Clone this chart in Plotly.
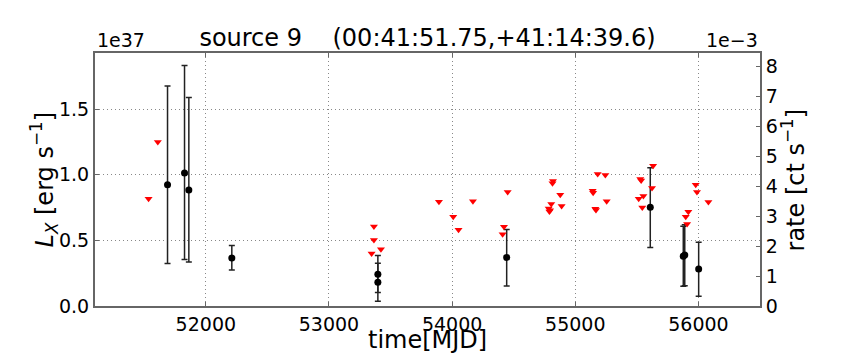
import plotly.graph_objects as go

# detections: time [MJD], L_X [1e37 erg/s], error bars
det_mjd = [51689, 51827, 51862, 52211, 53397, 53397, 54443, 55609, 55877, 55889, 56002]
det_lx = [0.924, 1.013, 0.883, 0.366, 0.242, 0.181, 0.370, 0.753, 0.379, 0.389, 0.282]
det_hi = [0.751, 0.819, 0.705, 0.095, 0.143, 0.145, 0.213, 0.300, 0.229, 0.229, 0.204]
det_lo = [0.600, 0.659, 0.547, 0.091, 0.140, 0.145, 0.217, 0.307, 0.229, 0.234, 0.208]

# upper limits: time [MJD], L_X [1e37 erg/s]
ul_mjd = [51535, 51610, 53346, 53365, 53365, 53422, 53893, 54009, 54052, 54169,
          54410, 54421, 54451, 54784, 54790, 54795, 54805, 54815, 54819, 54878,
          54889, 55141, 55145, 55163, 55168, 55182, 55244, 55255, 55515, 55528,
          55535, 55544, 55553, 55623, 55632, 55897, 55908, 55918, 55978, 55988,
          56081]
ul_lx = [0.817, 1.250, 0.400, 0.606, 0.502, 0.433, 0.794, 0.679, 0.580, 0.797,
         0.547, 0.603, 0.868, 0.743, 0.720, 0.730, 0.776, 0.935, 0.952, 0.847,
         0.761, 0.878, 0.863, 0.740, 0.731, 1.005, 0.998, 0.797, 0.817, 0.967,
         0.955, 0.751, 0.837, 0.898, 1.069, 0.680, 0.624, 0.718, 0.924, 0.868,
         0.792]

x_ticks = [52000, 53000, 54000, 55000, 56000]
lx_ticks = [0.0, 0.5, 1.0, 1.5]
rate_ticks = [0, 1, 2, 3, 4, 5, 6, 7, 8]

RATE_PER_LX = 4.387  # 1e-3 ct/s per 1e37 erg/s
LX_MAX = 1.927
FONT = "DejaVu Sans"

fig = go.Figure()

fig.add_trace(go.Scatter(
    x=ul_mjd, y=[v * RATE_PER_LX for v in ul_lx], yaxis="y2",
    mode="markers",
    marker=dict(symbol="triangle-down", size=7, color="red", line=dict(width=0)),
    showlegend=False))

fig.add_trace(go.Scatter(
    x=det_mjd, y=det_lx, mode="markers",
    marker=dict(symbol="circle", size=7, color="black"),
    error_y=dict(type="data", array=det_hi, arrayminus=det_lo,
                 color="#222222", thickness=1.5, width=3),
    showlegend=False))

axis_line = dict(showline=True, linecolor="#666666", linewidth=2,
                 ticks="inside", ticklen=4, tickcolor="#666666",
                 tickfont=dict(family=FONT, size=19, color="black"),
                 zeroline=False, automargin=False)
grid = dict(showgrid=True, gridcolor="#888888", griddash="1px,3px", gridwidth=1)

# page body has an 8px margin, so the figure is a bit smaller than the window
fig.update_layout(
    width=856, height=352,
    margin=dict(l=87, r=104, t=45, b=54),
    plot_bgcolor="white", paper_bgcolor="white",
    font=dict(family=FONT, color="black"),
    title=dict(text="source 9\u00a0\u00a0\u00a0\u00a0(00:41:51.75,+41:14:39.6)",
               x=0.5, xref="paper", y=0.915, yanchor="middle",
               font=dict(family=FONT, size=24)),
    xaxis=dict(range=[51100, 56500], tickvals=x_ticks,
               ticktext=[str(t) for t in x_ticks], mirror="ticks",
               **grid, **axis_line),
    yaxis=dict(range=[0, LX_MAX], tickvals=lx_ticks, tickformat=".1f",
               **grid, **axis_line),
    yaxis2=dict(range=[0, LX_MAX * RATE_PER_LX], tickvals=rate_ticks,
                overlaying="y", side="right", showgrid=False,
                **axis_line),
    annotations=[
        dict(text="1e37", x=0, y=1, xref="paper", yref="paper",
             xanchor="left", yanchor="bottom", showarrow=False,
             font=dict(family=FONT, size=19)),
        dict(text="1e\u22123", x=1, y=1, xref="paper", yref="paper",
             xanchor="right", yanchor="bottom", showarrow=False,
             font=dict(family=FONT, size=19)),
        dict(text="time[MJD]", x=0.5, y=-0.134, xref="paper", yref="paper",
             xanchor="center", yanchor="middle", showarrow=False,
             font=dict(family=FONT, size=24)),
        dict(text="<i>L</i><sub><i>X</i></sub> [erg s<sup>\u22121</sup>]",
             x=-0.0767, y=0.5, xref="paper", yref="paper", textangle=-90,
             xanchor="center", yanchor="middle", showarrow=False,
             font=dict(family=FONT, size=24)),
        dict(text="rate [ct s<sup>\u22121</sup>]",
             x=1.0496, y=0.5, xref="paper", yref="paper", textangle=-90,
             xanchor="center", yanchor="middle", showarrow=False,
             font=dict(family=FONT, size=24)),
    ],
)

fig.write_html("out.html")
